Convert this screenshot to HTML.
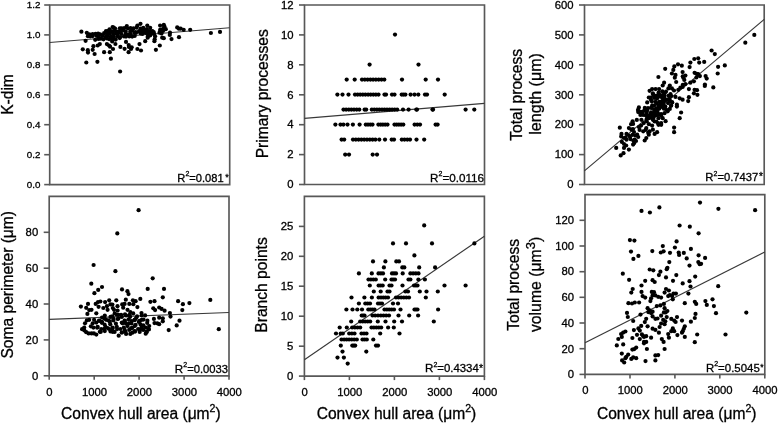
<!DOCTYPE html>
<html><head><meta charset="utf-8"><style>
html,body{margin:0;padding:0;background:#fff;}
svg{display:block;will-change:transform;}
text{font-family:"Liberation Sans", sans-serif;fill:#000;stroke:#000;stroke-width:0.3px;}
</style></head><body>
<svg width="778" height="423" viewBox="0 0 778 423">
<rect width="778" height="423" fill="#fff"/>
<path d="M49.70 5.00H229.70V184.60H49.70Z" fill="none" stroke="#585858" stroke-width="1.65"/><path d="M44.2 184.6H49.7" stroke="#585858" stroke-width="1.6"/><text x="40.4" y="187.88" font-size="9.8" text-anchor="end">0.0</text><path d="M44.2 154.7H49.7" stroke="#585858" stroke-width="1.6"/><text x="40.4" y="157.95" font-size="9.8" text-anchor="end">0.2</text><path d="M44.2 124.7H49.7" stroke="#585858" stroke-width="1.6"/><text x="40.4" y="128.01" font-size="9.8" text-anchor="end">0.4</text><path d="M44.2 94.8H49.7" stroke="#585858" stroke-width="1.6"/><text x="40.4" y="98.08" font-size="9.8" text-anchor="end">0.6</text><path d="M44.2 64.9H49.7" stroke="#585858" stroke-width="1.6"/><text x="40.4" y="68.15" font-size="9.8" text-anchor="end">0.8</text><path d="M44.2 34.9H49.7" stroke="#585858" stroke-width="1.6"/><text x="40.4" y="38.21" font-size="9.8" text-anchor="end">1.0</text><path d="M44.2 5.0H49.7" stroke="#585858" stroke-width="1.6"/><text x="40.4" y="8.28" font-size="9.8" text-anchor="end">1.2</text><path d="M49.6 42.5L229.7 27.8" stroke="#383838" stroke-width="1.15"/><text x="177.31" y="181.50" font-size="11.15">R</text><text x="185.46" y="176.10" font-size="7.0">2</text><text x="189.35" y="181.50" font-size="11.15" textLength="34.31" lengthAdjust="spacingAndGlyphs">=0.081</text><text x="225.32" y="179.81" font-size="9.00">*</text><path d="M304.50 5.00H484.50V184.50H304.50Z" fill="none" stroke="#585858" stroke-width="1.65"/><path d="M299.0 184.5H304.5" stroke="#585858" stroke-width="1.6"/><text x="293.5" y="188.30" font-size="11.3" text-anchor="end">0</text><path d="M299.0 154.6H304.5" stroke="#585858" stroke-width="1.6"/><text x="293.5" y="158.38" font-size="11.3" text-anchor="end">2</text><path d="M299.0 124.7H304.5" stroke="#585858" stroke-width="1.6"/><text x="293.5" y="128.47" font-size="11.3" text-anchor="end">4</text><path d="M299.0 94.8H304.5" stroke="#585858" stroke-width="1.6"/><text x="293.5" y="98.55" font-size="11.3" text-anchor="end">6</text><path d="M299.0 64.8H304.5" stroke="#585858" stroke-width="1.6"/><text x="293.5" y="68.63" font-size="11.3" text-anchor="end">8</text><path d="M299.0 34.9H304.5" stroke="#585858" stroke-width="1.6"/><text x="293.5" y="38.72" font-size="11.3" text-anchor="end">10</text><path d="M299.0 5.0H304.5" stroke="#585858" stroke-width="1.6"/><text x="293.5" y="8.80" font-size="11.3" text-anchor="end">12</text><path d="M304.4 118.4L484.4 103.4" stroke="#383838" stroke-width="1.15"/><text x="430.07" y="181.50" font-size="11.60">R</text><text x="438.55" y="176.10" font-size="7.0">2</text><text x="442.44" y="181.50" font-size="11.60" textLength="41.64" lengthAdjust="spacingAndGlyphs">=0.0116</text><path d="M584.50 5.00H764.20V184.50H584.50Z" fill="none" stroke="#585858" stroke-width="1.65"/><path d="M579.0 184.5H584.5" stroke="#585858" stroke-width="1.6"/><text x="573.5" y="188.30" font-size="11.3" text-anchor="end">0</text><path d="M579.0 154.6H584.5" stroke="#585858" stroke-width="1.6"/><text x="573.5" y="158.38" font-size="11.3" text-anchor="end">100</text><path d="M579.0 124.7H584.5" stroke="#585858" stroke-width="1.6"/><text x="573.5" y="128.47" font-size="11.3" text-anchor="end">200</text><path d="M579.0 94.8H584.5" stroke="#585858" stroke-width="1.6"/><text x="573.5" y="98.55" font-size="11.3" text-anchor="end">300</text><path d="M579.0 64.8H584.5" stroke="#585858" stroke-width="1.6"/><text x="573.5" y="68.63" font-size="11.3" text-anchor="end">400</text><path d="M579.0 34.9H584.5" stroke="#585858" stroke-width="1.6"/><text x="573.5" y="38.72" font-size="11.3" text-anchor="end">500</text><path d="M579.0 5.0H584.5" stroke="#585858" stroke-width="1.6"/><text x="573.5" y="8.80" font-size="11.3" text-anchor="end">600</text><path d="M584.4 170.9L764.2 19.4" stroke="#383838" stroke-width="1.15"/><text x="705.30" y="181.30" font-size="11.30">R</text><text x="713.55" y="175.90" font-size="7.0">2</text><text x="717.45" y="181.30" font-size="11.30" textLength="40.72" lengthAdjust="spacingAndGlyphs">=0.7437</text><text x="759.10" y="180.20" font-size="10.00">*</text><path d="M49.20 196.40H229.00V375.80H49.20Z" fill="none" stroke="#585858" stroke-width="1.65"/><path d="M43.7 375.8H49.2" stroke="#585858" stroke-width="1.6"/><text x="38.2" y="379.60" font-size="11.3" text-anchor="end">0</text><path d="M43.7 339.9H49.2" stroke="#585858" stroke-width="1.6"/><text x="38.2" y="343.72" font-size="11.3" text-anchor="end">20</text><path d="M43.7 304.0H49.2" stroke="#585858" stroke-width="1.6"/><text x="38.2" y="307.84" font-size="11.3" text-anchor="end">40</text><path d="M43.7 268.2H49.2" stroke="#585858" stroke-width="1.6"/><text x="38.2" y="271.96" font-size="11.3" text-anchor="end">60</text><path d="M43.7 232.3H49.2" stroke="#585858" stroke-width="1.6"/><text x="38.2" y="236.08" font-size="11.3" text-anchor="end">80</text><path d="M49.2 375.8V379.8" stroke="#585858" stroke-width="1.6"/><text x="49.5" y="395.6" font-size="11.3" text-anchor="middle">0</text><path d="M94.2 375.8V379.8" stroke="#585858" stroke-width="1.6"/><text x="94.5" y="395.6" font-size="11.3" text-anchor="middle">1000</text><path d="M139.1 375.8V379.8" stroke="#585858" stroke-width="1.6"/><text x="139.4" y="395.6" font-size="11.3" text-anchor="middle">2000</text><path d="M184.1 375.8V379.8" stroke="#585858" stroke-width="1.6"/><text x="184.4" y="395.6" font-size="11.3" text-anchor="middle">3000</text><path d="M229.0 375.8V379.8" stroke="#585858" stroke-width="1.6"/><text x="229.3" y="395.6" font-size="11.3" text-anchor="middle">4000</text><path d="M49.2 319.4L229.0 312.5" stroke="#383838" stroke-width="1.15"/><text x="174.77" y="372.60" font-size="11.60">R</text><text x="183.25" y="367.20" font-size="7.0">2</text><text x="187.14" y="372.60" font-size="11.60" textLength="40.94" lengthAdjust="spacingAndGlyphs">=0.0033</text><path d="M304.40 196.40H484.40V376.10H304.40Z" fill="none" stroke="#585858" stroke-width="1.65"/><path d="M298.9 376.1H304.4" stroke="#585858" stroke-width="1.6"/><text x="293.4" y="379.90" font-size="11.3" text-anchor="end">0</text><path d="M298.9 346.2H304.4" stroke="#585858" stroke-width="1.6"/><text x="293.4" y="349.95" font-size="11.3" text-anchor="end">5</text><path d="M298.9 316.2H304.4" stroke="#585858" stroke-width="1.6"/><text x="293.4" y="320.00" font-size="11.3" text-anchor="end">10</text><path d="M298.9 286.2H304.4" stroke="#585858" stroke-width="1.6"/><text x="293.4" y="290.05" font-size="11.3" text-anchor="end">15</text><path d="M298.9 256.3H304.4" stroke="#585858" stroke-width="1.6"/><text x="293.4" y="260.10" font-size="11.3" text-anchor="end">20</text><path d="M298.9 226.4H304.4" stroke="#585858" stroke-width="1.6"/><text x="293.4" y="230.15" font-size="11.3" text-anchor="end">25</text><path d="M304.4 376.1V380.1" stroke="#585858" stroke-width="1.6"/><text x="304.7" y="395.9" font-size="11.3" text-anchor="middle">0</text><path d="M349.4 376.1V380.1" stroke="#585858" stroke-width="1.6"/><text x="349.7" y="395.9" font-size="11.3" text-anchor="middle">1000</text><path d="M394.4 376.1V380.1" stroke="#585858" stroke-width="1.6"/><text x="394.7" y="395.9" font-size="11.3" text-anchor="middle">2000</text><path d="M439.4 376.1V380.1" stroke="#585858" stroke-width="1.6"/><text x="439.7" y="395.9" font-size="11.3" text-anchor="middle">3000</text><path d="M484.4 376.1V380.1" stroke="#585858" stroke-width="1.6"/><text x="484.7" y="395.9" font-size="11.3" text-anchor="middle">4000</text><path d="M304.4 359.8L484.4 236.2" stroke="#383838" stroke-width="1.15"/><text x="424.97" y="372.30" font-size="11.60">R</text><text x="433.45" y="366.90" font-size="7.0">2</text><text x="437.34" y="372.30" font-size="11.60" textLength="41.44" lengthAdjust="spacingAndGlyphs">=0.4334</text><text x="478.99" y="372.14" font-size="10.50">*</text><path d="M585.00 194.60H764.80V374.40H585.00Z" fill="none" stroke="#585858" stroke-width="1.65"/><path d="M579.5 374.4H585.0" stroke="#585858" stroke-width="1.6"/><text x="574.0" y="378.20" font-size="11.3" text-anchor="end">0</text><path d="M579.5 348.7H585.0" stroke="#585858" stroke-width="1.6"/><text x="574.0" y="352.51" font-size="11.3" text-anchor="end">20</text><path d="M579.5 323.0H585.0" stroke="#585858" stroke-width="1.6"/><text x="574.0" y="326.83" font-size="11.3" text-anchor="end">40</text><path d="M579.5 297.3H585.0" stroke="#585858" stroke-width="1.6"/><text x="574.0" y="301.14" font-size="11.3" text-anchor="end">60</text><path d="M579.5 271.7H585.0" stroke="#585858" stroke-width="1.6"/><text x="574.0" y="275.46" font-size="11.3" text-anchor="end">80</text><path d="M579.5 246.0H585.0" stroke="#585858" stroke-width="1.6"/><text x="574.0" y="249.77" font-size="11.3" text-anchor="end">100</text><path d="M579.5 220.3H585.0" stroke="#585858" stroke-width="1.6"/><text x="574.0" y="224.08" font-size="11.3" text-anchor="end">120</text><path d="M585.0 374.4V378.4" stroke="#585858" stroke-width="1.6"/><text x="585.3" y="394.2" font-size="11.3" text-anchor="middle">0</text><path d="M630.0 374.4V378.4" stroke="#585858" stroke-width="1.6"/><text x="630.2" y="394.2" font-size="11.3" text-anchor="middle">1000</text><path d="M674.9 374.4V378.4" stroke="#585858" stroke-width="1.6"/><text x="675.2" y="394.2" font-size="11.3" text-anchor="middle">2000</text><path d="M719.8 374.4V378.4" stroke="#585858" stroke-width="1.6"/><text x="720.1" y="394.2" font-size="11.3" text-anchor="middle">3000</text><path d="M764.8 374.4V378.4" stroke="#585858" stroke-width="1.6"/><text x="765.1" y="394.2" font-size="11.3" text-anchor="middle">4000</text><path d="M585.0 342.7L764.8 252.0" stroke="#383838" stroke-width="1.15"/><text x="705.89" y="371.50" font-size="11.40">R</text><text x="714.22" y="366.10" font-size="7.0">2</text><text x="718.11" y="371.50" font-size="11.40" textLength="41.66" lengthAdjust="spacingAndGlyphs">=0.5045</text><text x="760.23" y="370.17" font-size="8.50">*</text>
<text transform="translate(12.5 94.5) rotate(-90)" font-size="15.6" text-anchor="middle">K-dim</text><text transform="translate(267.6 93.8) rotate(-90)" font-size="15.6" text-anchor="middle">Primary processes</text><text transform="translate(521.5 94.8) rotate(-90)" font-size="15.6" text-anchor="middle">Total process</text><text transform="translate(540.7 93.9) rotate(-90)" font-size="16.1" text-anchor="middle">length (μm)</text><text transform="translate(12.8 284.8) rotate(-90)" font-size="15.6" text-anchor="middle">Soma perimeter (μm)</text><text transform="translate(267.3 285.0) rotate(-90)" font-size="15.6" text-anchor="middle">Branch points</text><text transform="translate(518.8 284.9) rotate(-90)" font-size="15.6" text-anchor="middle">Total process</text><text transform="translate(540.8 284.4) rotate(-90)" font-size="15.8" text-anchor="middle">volume (μm<tspan font-size="13" dy="-6.3">3</tspan><tspan dy="6.3">)</tspan></text><text x="140.9" y="418.5" font-size="15.6" text-anchor="middle">Convex hull area (μm<tspan font-size="10.6" dy="-7.0">2</tspan><tspan dy="7.0">)</tspan></text><text x="396.5" y="418.5" font-size="15.6" text-anchor="middle">Convex hull area (μm<tspan font-size="10.6" dy="-7.0">2</tspan><tspan dy="7.0">)</tspan></text><text x="676.7" y="418.5" font-size="15.6" text-anchor="middle">Convex hull area (μm<tspan font-size="10.6" dy="-7.0">2</tspan><tspan dy="7.0">)</tspan></text>
<g fill="#000"><circle cx="81.4" cy="31.7" r="2.10"/><circle cx="85.6" cy="40.8" r="2.10"/><circle cx="82.8" cy="49.3" r="2.10"/><circle cx="87.8" cy="50.2" r="2.10"/><circle cx="88.0" cy="52.6" r="2.10"/><circle cx="92.7" cy="49.8" r="2.10"/><circle cx="93.4" cy="46.2" r="2.10"/><circle cx="94.6" cy="54.0" r="2.10"/><circle cx="86.3" cy="62.5" r="2.10"/><circle cx="97.4" cy="61.8" r="2.10"/><circle cx="97.7" cy="45.5" r="2.10"/><circle cx="99.8" cy="44.1" r="2.10"/><circle cx="104.1" cy="52.2" r="2.10"/><circle cx="109.8" cy="52.2" r="2.10"/><circle cx="106.9" cy="44.1" r="2.10"/><circle cx="109.0" cy="45.5" r="2.10"/><circle cx="113.0" cy="49.0" r="2.10"/><circle cx="110.9" cy="58.7" r="2.10"/><circle cx="120.1" cy="71.5" r="2.10"/><circle cx="120.4" cy="46.9" r="2.10"/><circle cx="124.6" cy="48.8" r="2.10"/><circle cx="128.6" cy="52.2" r="2.10"/><circle cx="128.9" cy="46.9" r="2.10"/><circle cx="131.0" cy="49.0" r="2.10"/><circle cx="131.7" cy="47.3" r="2.10"/><circle cx="139.5" cy="44.1" r="2.10"/><circle cx="137.4" cy="49.0" r="2.10"/><circle cx="141.0" cy="50.5" r="2.10"/><circle cx="145.2" cy="41.2" r="2.10"/><circle cx="154.4" cy="41.2" r="2.10"/><circle cx="155.9" cy="49.8" r="2.10"/><circle cx="159.8" cy="45.5" r="2.10"/><circle cx="162.2" cy="37.7" r="2.10"/><circle cx="161.5" cy="33.4" r="2.10"/><circle cx="160.1" cy="29.9" r="2.10"/><circle cx="160.1" cy="25.6" r="2.10"/><circle cx="164.4" cy="26.3" r="2.10"/><circle cx="165.8" cy="29.2" r="2.10"/><circle cx="170.0" cy="32.7" r="2.10"/><circle cx="171.5" cy="39.1" r="2.10"/><circle cx="169.8" cy="34.9" r="2.10"/><circle cx="140.5" cy="23.8" r="2.10"/><circle cx="137.4" cy="25.6" r="2.10"/><circle cx="126.8" cy="26.1" r="2.10"/><circle cx="112.6" cy="27.1" r="2.10"/><circle cx="147.3" cy="25.6" r="2.10"/><circle cx="150.2" cy="27.8" r="2.10"/><circle cx="153.7" cy="32.0" r="2.10"/><circle cx="155.1" cy="36.3" r="2.10"/><circle cx="148.8" cy="34.9" r="2.10"/><circle cx="144.2" cy="29.9" r="2.10"/><circle cx="152.4" cy="31.0" r="2.10"/><circle cx="154.1" cy="33.9" r="2.10"/><circle cx="154.7" cy="39.2" r="2.10"/><circle cx="150.6" cy="34.5" r="2.10"/><circle cx="159.5" cy="32.7" r="2.10"/><circle cx="164.2" cy="28.0" r="2.10"/><circle cx="163.0" cy="31.0" r="2.10"/><circle cx="177.2" cy="27.4" r="2.10"/><circle cx="180.7" cy="28.6" r="2.10"/><circle cx="183.7" cy="29.8" r="2.10"/><circle cx="179.0" cy="37.2" r="2.10"/><circle cx="190.2" cy="29.8" r="2.10"/><circle cx="210.9" cy="33.0" r="2.10"/><circle cx="220.0" cy="31.9" r="2.10"/><circle cx="110.1" cy="46.7" r="2.10"/><circle cx="128.7" cy="45.1" r="2.10"/><circle cx="126.0" cy="41.9" r="2.10"/><circle cx="115.4" cy="44.0" r="2.10"/><circle cx="112.2" cy="41.4" r="2.10"/><circle cx="95.2" cy="39.8" r="2.10"/><circle cx="163.8" cy="24.9" r="2.10"/><circle cx="162.8" cy="29.2" r="2.10"/><circle cx="163.8" cy="38.2" r="2.10"/><circle cx="178.9" cy="28.7" r="2.10"/><circle cx="147.7" cy="37.7" r="2.10"/><circle cx="109.5" cy="29.3" r="2.10"/><circle cx="113.7" cy="27.7" r="2.10"/><circle cx="115.1" cy="28.6" r="2.10"/><circle cx="119.8" cy="28.3" r="2.10"/><circle cx="121.5" cy="28.4" r="2.10"/><circle cx="124.2" cy="28.0" r="2.10"/><circle cx="127.9" cy="28.5" r="2.10"/><circle cx="130.5" cy="28.0" r="2.10"/><circle cx="133.5" cy="28.4" r="2.10"/><circle cx="136.6" cy="27.6" r="2.10"/><circle cx="140.6" cy="28.6" r="2.10"/><circle cx="143.3" cy="27.9" r="2.10"/><circle cx="146.9" cy="29.1" r="2.10"/><circle cx="106.0" cy="31.0" r="2.10"/><circle cx="107.9" cy="31.2" r="2.10"/><circle cx="111.9" cy="31.4" r="2.10"/><circle cx="114.3" cy="31.0" r="2.10"/><circle cx="117.5" cy="31.6" r="2.10"/><circle cx="120.5" cy="30.9" r="2.10"/><circle cx="123.5" cy="30.3" r="2.10"/><circle cx="125.7" cy="31.5" r="2.10"/><circle cx="130.4" cy="31.3" r="2.10"/><circle cx="132.3" cy="30.5" r="2.10"/><circle cx="135.5" cy="32.0" r="2.10"/><circle cx="139.0" cy="31.2" r="2.10"/><circle cx="142.1" cy="30.6" r="2.10"/><circle cx="144.5" cy="31.9" r="2.10"/><circle cx="147.6" cy="31.0" r="2.10"/><circle cx="150.1" cy="31.2" r="2.10"/><circle cx="86.8" cy="32.8" r="2.10"/><circle cx="89.5" cy="34.3" r="2.10"/><circle cx="92.7" cy="34.2" r="2.10"/><circle cx="95.6" cy="33.8" r="2.10"/><circle cx="98.1" cy="33.6" r="2.10"/><circle cx="100.2" cy="34.4" r="2.10"/><circle cx="104.1" cy="33.2" r="2.10"/><circle cx="107.0" cy="33.7" r="2.10"/><circle cx="109.7" cy="33.4" r="2.10"/><circle cx="113.1" cy="33.9" r="2.10"/><circle cx="116.2" cy="33.6" r="2.10"/><circle cx="118.2" cy="33.2" r="2.10"/><circle cx="121.4" cy="33.9" r="2.10"/><circle cx="125.6" cy="34.3" r="2.10"/><circle cx="128.5" cy="34.3" r="2.10"/><circle cx="130.6" cy="34.3" r="2.10"/><circle cx="134.3" cy="33.0" r="2.10"/><circle cx="136.1" cy="32.8" r="2.10"/><circle cx="140.5" cy="33.3" r="2.10"/><circle cx="142.3" cy="33.9" r="2.10"/><circle cx="145.7" cy="32.9" r="2.10"/><circle cx="148.4" cy="33.8" r="2.10"/><circle cx="151.4" cy="33.3" r="2.10"/><circle cx="87.9" cy="36.2" r="2.10"/><circle cx="90.2" cy="36.3" r="2.10"/><circle cx="92.6" cy="36.1" r="2.10"/><circle cx="96.4" cy="35.8" r="2.10"/><circle cx="98.8" cy="37.0" r="2.10"/><circle cx="102.5" cy="35.8" r="2.10"/><circle cx="105.7" cy="36.9" r="2.10"/><circle cx="107.6" cy="35.5" r="2.10"/><circle cx="110.9" cy="36.7" r="2.10"/><circle cx="113.9" cy="36.7" r="2.10"/><circle cx="117.8" cy="36.4" r="2.10"/><circle cx="120.0" cy="37.2" r="2.10"/><circle cx="124.0" cy="36.4" r="2.10"/><circle cx="126.0" cy="36.6" r="2.10"/><circle cx="129.3" cy="36.5" r="2.10"/><circle cx="132.2" cy="36.6" r="2.10"/><circle cx="134.7" cy="36.0" r="2.10"/><circle cx="147.9" cy="36.2" r="2.10"/><circle cx="150.1" cy="35.4" r="2.10"/><circle cx="98.4" cy="39.0" r="2.10"/><circle cx="100.8" cy="38.7" r="2.10"/><circle cx="103.5" cy="39.3" r="2.10"/><circle cx="106.9" cy="38.4" r="2.10"/><circle cx="109.3" cy="39.2" r="2.10"/><circle cx="112.6" cy="38.9" r="2.10"/><circle cx="115.7" cy="39.6" r="2.10"/><circle cx="119.7" cy="38.1" r="2.10"/><circle cx="395.0" cy="34.6" r="2.10"/><circle cx="369.6" cy="64.6" r="2.10"/><circle cx="418.5" cy="64.6" r="2.10"/><circle cx="346.7" cy="79.6" r="2.10"/><circle cx="354.7" cy="79.6" r="2.10"/><circle cx="362.0" cy="79.6" r="2.10"/><circle cx="364.8" cy="79.6" r="2.10"/><circle cx="367.6" cy="79.6" r="2.10"/><circle cx="370.4" cy="79.6" r="2.10"/><circle cx="373.1" cy="79.6" r="2.10"/><circle cx="375.9" cy="79.6" r="2.10"/><circle cx="378.7" cy="79.6" r="2.10"/><circle cx="381.5" cy="79.6" r="2.10"/><circle cx="384.3" cy="79.6" r="2.10"/><circle cx="402.0" cy="79.6" r="2.10"/><circle cx="425.7" cy="79.6" r="2.10"/><circle cx="438.0" cy="79.6" r="2.10"/><circle cx="337.4" cy="94.6" r="2.10"/><circle cx="342.5" cy="94.6" r="2.10"/><circle cx="348.5" cy="94.6" r="2.10"/><circle cx="355.0" cy="94.6" r="2.10"/><circle cx="357.6" cy="94.6" r="2.10"/><circle cx="360.2" cy="94.6" r="2.10"/><circle cx="362.8" cy="94.6" r="2.10"/><circle cx="365.4" cy="94.6" r="2.10"/><circle cx="368.1" cy="94.6" r="2.10"/><circle cx="370.7" cy="94.6" r="2.10"/><circle cx="373.3" cy="94.6" r="2.10"/><circle cx="375.9" cy="94.6" r="2.10"/><circle cx="378.5" cy="94.6" r="2.10"/><circle cx="384.5" cy="94.6" r="2.10"/><circle cx="386.0" cy="94.6" r="2.10"/><circle cx="392.0" cy="94.6" r="2.10"/><circle cx="394.5" cy="94.6" r="2.10"/><circle cx="401.7" cy="94.6" r="2.10"/><circle cx="403.5" cy="94.6" r="2.10"/><circle cx="405.4" cy="94.6" r="2.10"/><circle cx="410.6" cy="94.6" r="2.10"/><circle cx="414.5" cy="94.6" r="2.10"/><circle cx="418.3" cy="94.6" r="2.10"/><circle cx="425.0" cy="94.6" r="2.10"/><circle cx="427.0" cy="94.6" r="2.10"/><circle cx="444.7" cy="94.6" r="2.10"/><circle cx="343.5" cy="109.6" r="2.10"/><circle cx="346.1" cy="109.6" r="2.10"/><circle cx="348.8" cy="109.6" r="2.10"/><circle cx="351.4" cy="109.6" r="2.10"/><circle cx="354.0" cy="109.6" r="2.10"/><circle cx="356.7" cy="109.6" r="2.10"/><circle cx="359.3" cy="109.6" r="2.10"/><circle cx="364.6" cy="109.6" r="2.10"/><circle cx="366.2" cy="109.6" r="2.10"/><circle cx="371.8" cy="109.6" r="2.10"/><circle cx="374.3" cy="109.6" r="2.10"/><circle cx="376.9" cy="109.6" r="2.10"/><circle cx="379.4" cy="109.6" r="2.10"/><circle cx="382.0" cy="109.6" r="2.10"/><circle cx="384.5" cy="109.6" r="2.10"/><circle cx="387.0" cy="109.6" r="2.10"/><circle cx="389.6" cy="109.6" r="2.10"/><circle cx="392.1" cy="109.6" r="2.10"/><circle cx="394.7" cy="109.6" r="2.10"/><circle cx="397.2" cy="109.6" r="2.10"/><circle cx="403.0" cy="109.6" r="2.10"/><circle cx="408.6" cy="109.6" r="2.10"/><circle cx="416.3" cy="109.6" r="2.10"/><circle cx="417.0" cy="109.6" r="2.10"/><circle cx="432.5" cy="109.6" r="2.10"/><circle cx="433.0" cy="109.6" r="2.10"/><circle cx="465.6" cy="109.6" r="2.10"/><circle cx="474.3" cy="109.6" r="2.10"/><circle cx="335.4" cy="124.6" r="2.10"/><circle cx="340.5" cy="124.6" r="2.10"/><circle cx="343.4" cy="124.6" r="2.10"/><circle cx="347.5" cy="124.6" r="2.10"/><circle cx="352.9" cy="124.6" r="2.10"/><circle cx="359.6" cy="124.6" r="2.10"/><circle cx="365.8" cy="124.6" r="2.10"/><circle cx="368.0" cy="124.6" r="2.10"/><circle cx="370.3" cy="124.6" r="2.10"/><circle cx="372.5" cy="124.6" r="2.10"/><circle cx="378.4" cy="124.6" r="2.10"/><circle cx="380.7" cy="124.6" r="2.10"/><circle cx="382.9" cy="124.6" r="2.10"/><circle cx="385.2" cy="124.6" r="2.10"/><circle cx="387.5" cy="124.6" r="2.10"/><circle cx="394.5" cy="124.6" r="2.10"/><circle cx="396.7" cy="124.6" r="2.10"/><circle cx="398.9" cy="124.6" r="2.10"/><circle cx="401.1" cy="124.6" r="2.10"/><circle cx="403.3" cy="124.6" r="2.10"/><circle cx="414.6" cy="124.6" r="2.10"/><circle cx="417.3" cy="124.6" r="2.10"/><circle cx="420.0" cy="124.6" r="2.10"/><circle cx="435.6" cy="124.6" r="2.10"/><circle cx="437.6" cy="124.6" r="2.10"/><circle cx="341.6" cy="139.6" r="2.10"/><circle cx="344.2" cy="139.6" r="2.10"/><circle cx="353.0" cy="139.6" r="2.10"/><circle cx="355.8" cy="139.6" r="2.10"/><circle cx="358.6" cy="139.6" r="2.10"/><circle cx="361.4" cy="139.6" r="2.10"/><circle cx="364.2" cy="139.6" r="2.10"/><circle cx="367.0" cy="139.6" r="2.10"/><circle cx="369.8" cy="139.6" r="2.10"/><circle cx="372.6" cy="139.6" r="2.10"/><circle cx="375.4" cy="139.6" r="2.10"/><circle cx="379.3" cy="139.6" r="2.10"/><circle cx="385.0" cy="139.6" r="2.10"/><circle cx="391.7" cy="139.6" r="2.10"/><circle cx="394.0" cy="139.6" r="2.10"/><circle cx="401.8" cy="139.6" r="2.10"/><circle cx="404.5" cy="139.6" r="2.10"/><circle cx="407.3" cy="139.6" r="2.10"/><circle cx="410.0" cy="139.6" r="2.10"/><circle cx="416.5" cy="139.6" r="2.10"/><circle cx="424.2" cy="139.6" r="2.10"/><circle cx="345.2" cy="154.6" r="2.10"/><circle cx="349.0" cy="154.6" r="2.10"/><circle cx="372.7" cy="154.6" r="2.10"/><circle cx="377.0" cy="154.6" r="2.10"/><circle cx="619.8" cy="127.7" r="2.10"/><circle cx="621.5" cy="133.9" r="2.10"/><circle cx="621.2" cy="136.4" r="2.10"/><circle cx="616.2" cy="147.9" r="2.10"/><circle cx="620.7" cy="155.4" r="2.10"/><circle cx="623.5" cy="153.2" r="2.10"/><circle cx="624.0" cy="147.9" r="2.10"/><circle cx="626.5" cy="139.7" r="2.10"/><circle cx="628.9" cy="149.6" r="2.10"/><circle cx="633.1" cy="144.6" r="2.10"/><circle cx="634.7" cy="139.7" r="2.10"/><circle cx="637.2" cy="134.7" r="2.10"/><circle cx="631.4" cy="129.7" r="2.10"/><circle cx="633.1" cy="123.9" r="2.10"/><circle cx="628.9" cy="128.1" r="2.10"/><circle cx="626.5" cy="133.9" r="2.10"/><circle cx="644.7" cy="140.5" r="2.10"/><circle cx="646.3" cy="138.0" r="2.10"/><circle cx="638.0" cy="109.9" r="2.10"/><circle cx="638.9" cy="107.4" r="2.10"/><circle cx="643.0" cy="111.5" r="2.10"/><circle cx="641.4" cy="119.8" r="2.10"/><circle cx="643.8" cy="123.1" r="2.10"/><circle cx="646.3" cy="128.1" r="2.10"/><circle cx="649.6" cy="131.4" r="2.10"/><circle cx="652.9" cy="129.7" r="2.10"/><circle cx="648.8" cy="134.7" r="2.10"/><circle cx="652.1" cy="125.6" r="2.10"/><circle cx="654.6" cy="133.9" r="2.10"/><circle cx="657.1" cy="132.2" r="2.10"/><circle cx="657.9" cy="123.1" r="2.10"/><circle cx="661.2" cy="124.8" r="2.10"/><circle cx="654.6" cy="121.5" r="2.10"/><circle cx="647.2" cy="102.4" r="2.10"/><circle cx="648.8" cy="97.5" r="2.10"/><circle cx="649.6" cy="90.8" r="2.10"/><circle cx="652.1" cy="105.7" r="2.10"/><circle cx="654.6" cy="111.5" r="2.10"/><circle cx="657.9" cy="113.2" r="2.10"/><circle cx="661.2" cy="114.0" r="2.10"/><circle cx="661.2" cy="106.6" r="2.10"/><circle cx="660.4" cy="96.6" r="2.10"/><circle cx="662.9" cy="95.0" r="2.10"/><circle cx="665.2" cy="68.8" r="2.10"/><circle cx="658.4" cy="77.0" r="2.10"/><circle cx="674.3" cy="66.4" r="2.10"/><circle cx="678.0" cy="64.3" r="2.10"/><circle cx="681.8" cy="65.7" r="2.10"/><circle cx="673.3" cy="69.9" r="2.10"/><circle cx="671.9" cy="73.5" r="2.10"/><circle cx="675.5" cy="74.9" r="2.10"/><circle cx="674.8" cy="77.7" r="2.10"/><circle cx="682.6" cy="72.1" r="2.10"/><circle cx="685.4" cy="75.6" r="2.10"/><circle cx="683.3" cy="77.7" r="2.10"/><circle cx="690.4" cy="62.6" r="2.10"/><circle cx="689.6" cy="67.1" r="2.10"/><circle cx="694.6" cy="72.8" r="2.10"/><circle cx="698.2" cy="74.2" r="2.10"/><circle cx="693.9" cy="81.3" r="2.10"/><circle cx="690.4" cy="82.7" r="2.10"/><circle cx="685.4" cy="84.1" r="2.10"/><circle cx="682.6" cy="87.0" r="2.10"/><circle cx="676.2" cy="82.0" r="2.10"/><circle cx="664.1" cy="82.7" r="2.10"/><circle cx="662.7" cy="85.5" r="2.10"/><circle cx="669.8" cy="85.5" r="2.10"/><circle cx="671.9" cy="88.4" r="2.10"/><circle cx="674.0" cy="90.5" r="2.10"/><circle cx="678.3" cy="89.8" r="2.10"/><circle cx="680.4" cy="87.7" r="2.10"/><circle cx="688.9" cy="89.1" r="2.10"/><circle cx="694.6" cy="89.8" r="2.10"/><circle cx="693.9" cy="93.3" r="2.10"/><circle cx="697.4" cy="94.8" r="2.10"/><circle cx="688.9" cy="97.2" r="2.10"/><circle cx="688.2" cy="101.1" r="2.10"/><circle cx="682.6" cy="99.7" r="2.10"/><circle cx="679.7" cy="98.3" r="2.10"/><circle cx="675.5" cy="96.9" r="2.10"/><circle cx="676.9" cy="104.7" r="2.10"/><circle cx="681.1" cy="112.5" r="2.10"/><circle cx="679.7" cy="118.2" r="2.10"/><circle cx="670.5" cy="94.0" r="2.10"/><circle cx="668.4" cy="88.4" r="2.10"/><circle cx="659.1" cy="89.1" r="2.10"/><circle cx="655.6" cy="89.1" r="2.10"/><circle cx="652.1" cy="89.1" r="2.10"/><circle cx="664.1" cy="96.9" r="2.10"/><circle cx="666.2" cy="99.7" r="2.10"/><circle cx="669.8" cy="101.1" r="2.10"/><circle cx="671.2" cy="105.4" r="2.10"/><circle cx="669.8" cy="108.9" r="2.10"/><circle cx="661.3" cy="103.3" r="2.10"/><circle cx="657.0" cy="98.3" r="2.10"/><circle cx="654.2" cy="96.2" r="2.10"/><circle cx="650.6" cy="97.6" r="2.10"/><circle cx="655.6" cy="101.8" r="2.10"/><circle cx="651.3" cy="107.5" r="2.10"/><circle cx="654.2" cy="109.6" r="2.10"/><circle cx="658.4" cy="108.2" r="2.10"/><circle cx="662.7" cy="106.8" r="2.10"/><circle cx="666.2" cy="109.6" r="2.10"/><circle cx="647.1" cy="110.4" r="2.10"/><circle cx="641.4" cy="113.9" r="2.10"/><circle cx="645.7" cy="115.3" r="2.10"/><circle cx="650.6" cy="113.9" r="2.10"/><circle cx="654.9" cy="114.6" r="2.10"/><circle cx="661.3" cy="116.0" r="2.10"/><circle cx="652.1" cy="117.4" r="2.10"/><circle cx="648.5" cy="118.2" r="2.10"/><circle cx="745.3" cy="42.7" r="2.10"/><circle cx="754.3" cy="34.9" r="2.10"/><circle cx="711.6" cy="50.5" r="2.10"/><circle cx="714.8" cy="54.1" r="2.10"/><circle cx="694.3" cy="59.0" r="2.10"/><circle cx="698.2" cy="58.3" r="2.10"/><circle cx="699.2" cy="62.6" r="2.10"/><circle cx="704.2" cy="61.9" r="2.10"/><circle cx="718.1" cy="66.8" r="2.10"/><circle cx="724.8" cy="65.4" r="2.10"/><circle cx="717.7" cy="73.5" r="2.10"/><circle cx="699.9" cy="76.1" r="2.10"/><circle cx="696.4" cy="77.5" r="2.10"/><circle cx="705.6" cy="76.1" r="2.10"/><circle cx="706.7" cy="78.6" r="2.10"/><circle cx="704.9" cy="84.6" r="2.10"/><circle cx="682.8" cy="76.3" r="2.10"/><circle cx="684.3" cy="79.9" r="2.10"/><circle cx="682.8" cy="84.8" r="2.10"/><circle cx="704.8" cy="86.0" r="2.10"/><circle cx="713.3" cy="87.4" r="2.10"/><circle cx="697.0" cy="90.2" r="2.10"/><circle cx="621.9" cy="141.9" r="2.10"/><circle cx="624.0" cy="144.0" r="2.10"/><circle cx="626.2" cy="145.5" r="2.10"/><circle cx="629.0" cy="135.5" r="2.10"/><circle cx="631.1" cy="124.2" r="2.10"/><circle cx="632.6" cy="121.3" r="2.10"/><circle cx="632.6" cy="134.8" r="2.10"/><circle cx="634.0" cy="132.0" r="2.10"/><circle cx="630.4" cy="139.1" r="2.10"/><circle cx="633.3" cy="140.5" r="2.10"/><circle cx="625.5" cy="137.7" r="2.10"/><circle cx="634.0" cy="143.3" r="2.10"/><circle cx="635.4" cy="135.5" r="2.10"/><circle cx="638.2" cy="137.0" r="2.10"/><circle cx="636.8" cy="119.9" r="2.10"/><circle cx="638.9" cy="127.0" r="2.10"/><circle cx="641.1" cy="125.6" r="2.10"/><circle cx="639.6" cy="129.9" r="2.10"/><circle cx="643.2" cy="131.3" r="2.10"/><circle cx="646.7" cy="121.3" r="2.10"/><circle cx="648.9" cy="124.2" r="2.10"/><circle cx="648.2" cy="132.7" r="2.10"/><circle cx="638.2" cy="112.1" r="2.10"/><circle cx="646.7" cy="112.8" r="2.10"/><circle cx="640.4" cy="115.0" r="2.10"/><circle cx="696.7" cy="73.9" r="2.10"/><circle cx="674.1" cy="127.6" r="2.10"/><circle cx="674.1" cy="132.2" r="2.10"/><circle cx="676.9" cy="106.6" r="2.10"/><circle cx="665.6" cy="121.2" r="2.10"/><circle cx="658.5" cy="124.8" r="2.10"/><circle cx="645.7" cy="129.8" r="2.10"/><circle cx="667.7" cy="111.3" r="2.10"/><circle cx="672.0" cy="102.1" r="2.10"/><circle cx="669.1" cy="99.3" r="2.10"/><circle cx="659.6" cy="95.0" r="2.10"/><circle cx="662.9" cy="98.3" r="2.10"/><circle cx="661.2" cy="101.6" r="2.10"/><circle cx="664.5" cy="93.3" r="2.10"/><circle cx="652.9" cy="93.3" r="2.10"/><circle cx="644.7" cy="109.9" r="2.10"/><circle cx="654.6" cy="113.2" r="2.10"/><circle cx="657.9" cy="114.8" r="2.10"/><circle cx="664.5" cy="113.2" r="2.10"/><circle cx="639.7" cy="111.5" r="2.10"/><circle cx="652.9" cy="119.8" r="2.10"/><circle cx="656.3" cy="121.5" r="2.10"/><circle cx="661.2" cy="123.1" r="2.10"/><circle cx="663.7" cy="104.1" r="2.10"/><circle cx="658.7" cy="106.6" r="2.10"/><circle cx="630.0" cy="137.0" r="2.10"/><circle cx="633.0" cy="129.0" r="2.10"/><circle cx="636.0" cy="141.0" r="2.10"/><circle cx="624.0" cy="138.0" r="2.10"/><circle cx="658.6" cy="92.6" r="2.10"/><circle cx="662.3" cy="91.3" r="2.10"/><circle cx="666.0" cy="91.7" r="2.10"/><circle cx="653.0" cy="94.6" r="2.10"/><circle cx="656.7" cy="95.7" r="2.10"/><circle cx="659.8" cy="95.0" r="2.10"/><circle cx="664.3" cy="95.4" r="2.10"/><circle cx="668.4" cy="95.8" r="2.10"/><circle cx="671.3" cy="96.0" r="2.10"/><circle cx="651.0" cy="99.9" r="2.10"/><circle cx="654.2" cy="98.0" r="2.10"/><circle cx="657.0" cy="98.2" r="2.10"/><circle cx="662.9" cy="98.6" r="2.10"/><circle cx="665.7" cy="99.8" r="2.10"/><circle cx="669.6" cy="99.1" r="2.10"/><circle cx="651.9" cy="101.6" r="2.10"/><circle cx="656.2" cy="103.1" r="2.10"/><circle cx="659.3" cy="101.9" r="2.10"/><circle cx="663.8" cy="101.5" r="2.10"/><circle cx="668.0" cy="103.1" r="2.10"/><circle cx="672.3" cy="102.5" r="2.10"/><circle cx="654.1" cy="105.7" r="2.10"/><circle cx="658.2" cy="105.1" r="2.10"/><circle cx="662.6" cy="105.1" r="2.10"/><circle cx="665.3" cy="106.5" r="2.10"/><circle cx="670.9" cy="105.8" r="2.10"/><circle cx="659.4" cy="108.6" r="2.10"/><circle cx="663.9" cy="108.7" r="2.10"/><circle cx="644.8" cy="107.9" r="2.10"/><circle cx="648.0" cy="108.2" r="2.10"/><circle cx="651.4" cy="108.0" r="2.10"/><circle cx="656.3" cy="108.6" r="2.10"/><circle cx="641.2" cy="112.1" r="2.10"/><circle cx="646.4" cy="110.6" r="2.10"/><circle cx="651.0" cy="112.4" r="2.10"/><circle cx="654.3" cy="111.7" r="2.10"/><circle cx="657.3" cy="110.5" r="2.10"/><circle cx="643.1" cy="114.9" r="2.10"/><circle cx="647.9" cy="115.6" r="2.10"/><circle cx="652.0" cy="115.2" r="2.10"/><circle cx="656.0" cy="115.3" r="2.10"/><circle cx="659.9" cy="114.5" r="2.10"/><circle cx="646.7" cy="118.9" r="2.10"/><circle cx="649.6" cy="117.9" r="2.10"/><circle cx="653.6" cy="117.6" r="2.10"/><circle cx="658.5" cy="118.2" r="2.10"/><circle cx="662.7" cy="118.2" r="2.10"/><circle cx="80.9" cy="306.6" r="2.10"/><circle cx="88.0" cy="303.9" r="2.10"/><circle cx="86.2" cy="307.8" r="2.10"/><circle cx="89.2" cy="310.1" r="2.10"/><circle cx="91.5" cy="309.8" r="2.10"/><circle cx="87.4" cy="313.9" r="2.10"/><circle cx="96.3" cy="313.3" r="2.10"/><circle cx="95.7" cy="303.9" r="2.10"/><circle cx="98.0" cy="302.1" r="2.10"/><circle cx="100.4" cy="301.5" r="2.10"/><circle cx="98.6" cy="306.8" r="2.10"/><circle cx="105.1" cy="302.1" r="2.10"/><circle cx="109.2" cy="300.3" r="2.10"/><circle cx="116.3" cy="300.3" r="2.10"/><circle cx="125.8" cy="299.7" r="2.10"/><circle cx="132.9" cy="300.3" r="2.10"/><circle cx="103.3" cy="308.0" r="2.10"/><circle cx="106.9" cy="306.2" r="2.10"/><circle cx="110.4" cy="304.4" r="2.10"/><circle cx="112.8" cy="308.0" r="2.10"/><circle cx="114.0" cy="309.8" r="2.10"/><circle cx="117.5" cy="306.2" r="2.10"/><circle cx="122.2" cy="304.4" r="2.10"/><circle cx="124.6" cy="303.9" r="2.10"/><circle cx="129.3" cy="303.9" r="2.10"/><circle cx="86.8" cy="320.4" r="2.10"/><circle cx="85.0" cy="323.3" r="2.10"/><circle cx="89.2" cy="319.8" r="2.10"/><circle cx="82.1" cy="329.2" r="2.10"/><circle cx="84.4" cy="330.4" r="2.10"/><circle cx="86.2" cy="332.2" r="2.10"/><circle cx="88.6" cy="333.4" r="2.10"/><circle cx="91.5" cy="333.4" r="2.10"/><circle cx="93.9" cy="333.4" r="2.10"/><circle cx="96.3" cy="334.6" r="2.10"/><circle cx="90.9" cy="326.3" r="2.10"/><circle cx="92.7" cy="323.3" r="2.10"/><circle cx="118.7" cy="335.7" r="2.10"/><circle cx="128.5" cy="294.1" r="2.10"/><circle cx="127.4" cy="291.2" r="2.10"/><circle cx="140.3" cy="298.9" r="2.10"/><circle cx="135.6" cy="301.2" r="2.10"/><circle cx="133.3" cy="304.2" r="2.10"/><circle cx="137.4" cy="307.1" r="2.10"/><circle cx="150.4" cy="301.8" r="2.10"/><circle cx="154.5" cy="301.2" r="2.10"/><circle cx="162.8" cy="297.3" r="2.10"/><circle cx="178.1" cy="301.2" r="2.10"/><circle cx="182.9" cy="304.2" r="2.10"/><circle cx="182.3" cy="310.1" r="2.10"/><circle cx="153.3" cy="308.3" r="2.10"/><circle cx="155.1" cy="310.1" r="2.10"/><circle cx="159.2" cy="307.5" r="2.10"/><circle cx="161.6" cy="308.9" r="2.10"/><circle cx="164.6" cy="310.7" r="2.10"/><circle cx="169.9" cy="313.0" r="2.10"/><circle cx="170.5" cy="316.6" r="2.10"/><circle cx="141.5" cy="313.0" r="2.10"/><circle cx="145.1" cy="315.4" r="2.10"/><circle cx="147.4" cy="320.7" r="2.10"/><circle cx="153.9" cy="318.9" r="2.10"/><circle cx="154.5" cy="323.1" r="2.10"/><circle cx="159.2" cy="317.7" r="2.10"/><circle cx="162.8" cy="318.3" r="2.10"/><circle cx="162.8" cy="321.3" r="2.10"/><circle cx="159.2" cy="324.2" r="2.10"/><circle cx="179.5" cy="320.7" r="2.10"/><circle cx="176.7" cy="325.4" r="2.10"/><circle cx="168.7" cy="330.1" r="2.10"/><circle cx="149.2" cy="326.0" r="2.10"/><circle cx="148.6" cy="329.0" r="2.10"/><circle cx="146.8" cy="331.9" r="2.10"/><circle cx="145.7" cy="333.7" r="2.10"/><circle cx="142.7" cy="329.0" r="2.10"/><circle cx="143.3" cy="325.4" r="2.10"/><circle cx="138.6" cy="210.2" r="2.10"/><circle cx="117.3" cy="233.4" r="2.10"/><circle cx="93.6" cy="265.0" r="2.10"/><circle cx="115.4" cy="271.2" r="2.10"/><circle cx="91.3" cy="283.7" r="2.10"/><circle cx="102.0" cy="287.0" r="2.10"/><circle cx="98.2" cy="289.9" r="2.10"/><circle cx="94.4" cy="293.2" r="2.10"/><circle cx="122.0" cy="289.4" r="2.10"/><circle cx="112.4" cy="304.5" r="2.10"/><circle cx="152.7" cy="278.3" r="2.10"/><circle cx="147.7" cy="288.9" r="2.10"/><circle cx="164.0" cy="288.9" r="2.10"/><circle cx="189.4" cy="303.1" r="2.10"/><circle cx="210.3" cy="299.9" r="2.10"/><circle cx="218.8" cy="329.2" r="2.10"/><circle cx="107.6" cy="309.8" r="2.10"/><circle cx="117.6" cy="310.5" r="2.10"/><circle cx="123.2" cy="307.7" r="2.10"/><circle cx="127.5" cy="309.8" r="2.10"/><circle cx="130.3" cy="312.0" r="2.10"/><circle cx="133.2" cy="313.4" r="2.10"/><circle cx="102.0" cy="317.6" r="2.10"/><circle cx="104.8" cy="315.5" r="2.10"/><circle cx="110.5" cy="316.9" r="2.10"/><circle cx="114.7" cy="313.4" r="2.10"/><circle cx="118.3" cy="314.8" r="2.10"/><circle cx="121.8" cy="316.9" r="2.10"/><circle cx="126.1" cy="315.5" r="2.10"/><circle cx="129.6" cy="314.8" r="2.10"/><circle cx="136.0" cy="318.3" r="2.10"/><circle cx="141.7" cy="315.5" r="2.10"/><circle cx="94.1" cy="319.8" r="2.10"/><circle cx="96.3" cy="322.6" r="2.10"/><circle cx="99.1" cy="320.5" r="2.10"/><circle cx="102.0" cy="321.9" r="2.10"/><circle cx="106.2" cy="319.8" r="2.10"/><circle cx="109.8" cy="321.9" r="2.10"/><circle cx="113.3" cy="320.5" r="2.10"/><circle cx="117.6" cy="319.0" r="2.10"/><circle cx="121.8" cy="322.6" r="2.10"/><circle cx="124.6" cy="320.5" r="2.10"/><circle cx="128.9" cy="323.3" r="2.10"/><circle cx="131.7" cy="321.2" r="2.10"/><circle cx="134.6" cy="319.8" r="2.10"/><circle cx="138.8" cy="321.9" r="2.10"/><circle cx="141.7" cy="319.8" r="2.10"/><circle cx="157.3" cy="323.3" r="2.10"/><circle cx="84.2" cy="327.6" r="2.10"/><circle cx="93.4" cy="327.6" r="2.10"/><circle cx="97.7" cy="326.8" r="2.10"/><circle cx="101.2" cy="329.0" r="2.10"/><circle cx="105.5" cy="326.8" r="2.10"/><circle cx="109.0" cy="329.0" r="2.10"/><circle cx="112.6" cy="327.6" r="2.10"/><circle cx="116.8" cy="326.8" r="2.10"/><circle cx="120.4" cy="329.0" r="2.10"/><circle cx="123.9" cy="327.6" r="2.10"/><circle cx="127.5" cy="326.1" r="2.10"/><circle cx="131.0" cy="328.3" r="2.10"/><circle cx="134.6" cy="326.1" r="2.10"/><circle cx="138.1" cy="329.0" r="2.10"/><circle cx="141.7" cy="326.8" r="2.10"/><circle cx="145.9" cy="327.6" r="2.10"/><circle cx="99.8" cy="331.8" r="2.10"/><circle cx="104.8" cy="331.1" r="2.10"/><circle cx="112.6" cy="331.8" r="2.10"/><circle cx="121.8" cy="332.5" r="2.10"/><circle cx="126.1" cy="333.9" r="2.10"/><circle cx="130.3" cy="333.9" r="2.10"/><circle cx="134.6" cy="331.1" r="2.10"/><circle cx="112.3" cy="316.4" r="2.10"/><circle cx="116.8" cy="314.7" r="2.10"/><circle cx="121.1" cy="314.8" r="2.10"/><circle cx="125.0" cy="314.3" r="2.10"/><circle cx="130.1" cy="316.8" r="2.10"/><circle cx="137.0" cy="316.4" r="2.10"/><circle cx="99.2" cy="320.9" r="2.10"/><circle cx="104.6" cy="318.6" r="2.10"/><circle cx="108.8" cy="320.4" r="2.10"/><circle cx="113.5" cy="318.9" r="2.10"/><circle cx="118.4" cy="318.6" r="2.10"/><circle cx="124.8" cy="320.9" r="2.10"/><circle cx="128.6" cy="319.3" r="2.10"/><circle cx="134.7" cy="320.1" r="2.10"/><circle cx="139.6" cy="320.9" r="2.10"/><circle cx="143.5" cy="319.6" r="2.10"/><circle cx="101.9" cy="322.8" r="2.10"/><circle cx="104.6" cy="324.6" r="2.10"/><circle cx="110.3" cy="324.3" r="2.10"/><circle cx="115.9" cy="323.7" r="2.10"/><circle cx="122.5" cy="323.3" r="2.10"/><circle cx="125.7" cy="323.3" r="2.10"/><circle cx="131.4" cy="323.5" r="2.10"/><circle cx="135.6" cy="324.9" r="2.10"/><circle cx="140.5" cy="324.4" r="2.10"/><circle cx="147.2" cy="323.0" r="2.10"/><circle cx="97.2" cy="327.7" r="2.10"/><circle cx="104.3" cy="328.9" r="2.10"/><circle cx="107.7" cy="328.0" r="2.10"/><circle cx="112.5" cy="328.4" r="2.10"/><circle cx="117.1" cy="329.1" r="2.10"/><circle cx="124.7" cy="329.9" r="2.10"/><circle cx="129.2" cy="329.9" r="2.10"/><circle cx="132.1" cy="327.9" r="2.10"/><circle cx="139.9" cy="329.4" r="2.10"/><circle cx="143.2" cy="329.9" r="2.10"/><circle cx="148.9" cy="329.5" r="2.10"/><circle cx="100.8" cy="331.8" r="2.10"/><circle cx="110.5" cy="331.4" r="2.10"/><circle cx="114.6" cy="331.9" r="2.10"/><circle cx="121.9" cy="332.5" r="2.10"/><circle cx="125.4" cy="331.7" r="2.10"/><circle cx="132.4" cy="332.7" r="2.10"/><circle cx="135.1" cy="331.6" r="2.10"/><circle cx="139.7" cy="331.9" r="2.10"/><circle cx="146.5" cy="331.8" r="2.10"/><circle cx="347.7" cy="363.6" r="2.10"/><circle cx="337.5" cy="357.6" r="2.10"/><circle cx="343.9" cy="357.6" r="2.10"/><circle cx="342.5" cy="351.6" r="2.10"/><circle cx="366.3" cy="351.6" r="2.10"/><circle cx="340.8" cy="345.6" r="2.10"/><circle cx="352.3" cy="345.6" r="2.10"/><circle cx="353.8" cy="345.6" r="2.10"/><circle cx="355.2" cy="345.6" r="2.10"/><circle cx="376.0" cy="345.6" r="2.10"/><circle cx="378.0" cy="345.6" r="2.10"/><circle cx="341.5" cy="339.5" r="2.10"/><circle cx="344.1" cy="339.5" r="2.10"/><circle cx="346.6" cy="339.5" r="2.10"/><circle cx="349.1" cy="339.5" r="2.10"/><circle cx="351.7" cy="339.5" r="2.10"/><circle cx="354.2" cy="339.5" r="2.10"/><circle cx="356.8" cy="339.5" r="2.10"/><circle cx="362.5" cy="339.5" r="2.10"/><circle cx="364.6" cy="339.5" r="2.10"/><circle cx="366.8" cy="339.5" r="2.10"/><circle cx="373.3" cy="339.5" r="2.10"/><circle cx="336.0" cy="333.5" r="2.10"/><circle cx="340.7" cy="333.5" r="2.10"/><circle cx="342.8" cy="333.5" r="2.10"/><circle cx="349.2" cy="333.5" r="2.10"/><circle cx="351.9" cy="333.5" r="2.10"/><circle cx="354.5" cy="333.5" r="2.10"/><circle cx="361.5" cy="333.5" r="2.10"/><circle cx="364.0" cy="333.5" r="2.10"/><circle cx="366.5" cy="333.5" r="2.10"/><circle cx="380.2" cy="333.5" r="2.10"/><circle cx="399.5" cy="333.5" r="2.10"/><circle cx="339.7" cy="327.5" r="2.10"/><circle cx="346.8" cy="327.5" r="2.10"/><circle cx="352.2" cy="327.5" r="2.10"/><circle cx="354.9" cy="327.5" r="2.10"/><circle cx="357.5" cy="327.5" r="2.10"/><circle cx="360.2" cy="327.5" r="2.10"/><circle cx="371.5" cy="327.5" r="2.10"/><circle cx="373.9" cy="327.5" r="2.10"/><circle cx="376.4" cy="327.5" r="2.10"/><circle cx="378.8" cy="327.5" r="2.10"/><circle cx="381.2" cy="327.5" r="2.10"/><circle cx="388.1" cy="327.5" r="2.10"/><circle cx="393.8" cy="327.5" r="2.10"/><circle cx="351.2" cy="321.5" r="2.10"/><circle cx="360.2" cy="321.5" r="2.10"/><circle cx="362.7" cy="321.5" r="2.10"/><circle cx="365.2" cy="321.5" r="2.10"/><circle cx="367.7" cy="321.5" r="2.10"/><circle cx="370.2" cy="321.5" r="2.10"/><circle cx="377.8" cy="321.5" r="2.10"/><circle cx="385.5" cy="321.5" r="2.10"/><circle cx="394.2" cy="321.5" r="2.10"/><circle cx="402.0" cy="321.5" r="2.10"/><circle cx="433.8" cy="321.5" r="2.10"/><circle cx="361.7" cy="315.5" r="2.10"/><circle cx="363.1" cy="315.5" r="2.10"/><circle cx="364.5" cy="315.5" r="2.10"/><circle cx="372.5" cy="315.5" r="2.10"/><circle cx="375.2" cy="315.5" r="2.10"/><circle cx="378.0" cy="315.5" r="2.10"/><circle cx="380.8" cy="315.5" r="2.10"/><circle cx="383.5" cy="315.5" r="2.10"/><circle cx="386.2" cy="315.5" r="2.10"/><circle cx="389.0" cy="315.5" r="2.10"/><circle cx="398.5" cy="315.5" r="2.10"/><circle cx="409.2" cy="315.5" r="2.10"/><circle cx="418.1" cy="315.5" r="2.10"/><circle cx="346.4" cy="309.5" r="2.10"/><circle cx="352.5" cy="309.5" r="2.10"/><circle cx="357.3" cy="309.5" r="2.10"/><circle cx="362.0" cy="309.5" r="2.10"/><circle cx="368.3" cy="309.5" r="2.10"/><circle cx="370.4" cy="309.5" r="2.10"/><circle cx="372.4" cy="309.5" r="2.10"/><circle cx="374.5" cy="309.5" r="2.10"/><circle cx="384.5" cy="309.5" r="2.10"/><circle cx="386.9" cy="309.5" r="2.10"/><circle cx="389.2" cy="309.5" r="2.10"/><circle cx="391.6" cy="309.5" r="2.10"/><circle cx="394.0" cy="309.5" r="2.10"/><circle cx="400.5" cy="309.5" r="2.10"/><circle cx="414.5" cy="309.5" r="2.10"/><circle cx="416.0" cy="309.5" r="2.10"/><circle cx="417.5" cy="309.5" r="2.10"/><circle cx="438.1" cy="309.5" r="2.10"/><circle cx="358.9" cy="303.5" r="2.10"/><circle cx="365.3" cy="303.5" r="2.10"/><circle cx="367.6" cy="303.5" r="2.10"/><circle cx="370.0" cy="303.5" r="2.10"/><circle cx="378.0" cy="303.5" r="2.10"/><circle cx="380.0" cy="303.5" r="2.10"/><circle cx="382.0" cy="303.5" r="2.10"/><circle cx="393.0" cy="303.5" r="2.10"/><circle cx="398.0" cy="303.5" r="2.10"/><circle cx="351.5" cy="297.5" r="2.10"/><circle cx="364.4" cy="297.5" r="2.10"/><circle cx="371.9" cy="297.5" r="2.10"/><circle cx="378.6" cy="297.5" r="2.10"/><circle cx="381.0" cy="297.5" r="2.10"/><circle cx="383.3" cy="297.5" r="2.10"/><circle cx="385.6" cy="297.5" r="2.10"/><circle cx="388.0" cy="297.5" r="2.10"/><circle cx="396.0" cy="297.5" r="2.10"/><circle cx="398.6" cy="297.5" r="2.10"/><circle cx="401.2" cy="297.5" r="2.10"/><circle cx="403.8" cy="297.5" r="2.10"/><circle cx="406.4" cy="297.5" r="2.10"/><circle cx="409.0" cy="297.5" r="2.10"/><circle cx="425.8" cy="297.5" r="2.10"/><circle cx="373.8" cy="291.5" r="2.10"/><circle cx="380.7" cy="291.5" r="2.10"/><circle cx="387.5" cy="291.5" r="2.10"/><circle cx="389.5" cy="291.5" r="2.10"/><circle cx="405.4" cy="291.5" r="2.10"/><circle cx="408.0" cy="291.5" r="2.10"/><circle cx="419.8" cy="291.5" r="2.10"/><circle cx="426.5" cy="291.5" r="2.10"/><circle cx="437.8" cy="291.5" r="2.10"/><circle cx="369.8" cy="285.5" r="2.10"/><circle cx="378.6" cy="285.5" r="2.10"/><circle cx="380.6" cy="285.5" r="2.10"/><circle cx="382.7" cy="285.5" r="2.10"/><circle cx="389.5" cy="285.5" r="2.10"/><circle cx="391.5" cy="285.5" r="2.10"/><circle cx="402.5" cy="285.5" r="2.10"/><circle cx="414.0" cy="285.5" r="2.10"/><circle cx="415.8" cy="285.5" r="2.10"/><circle cx="417.5" cy="285.5" r="2.10"/><circle cx="444.5" cy="285.5" r="2.10"/><circle cx="465.6" cy="285.5" r="2.10"/><circle cx="368.5" cy="279.5" r="2.10"/><circle cx="370.9" cy="279.5" r="2.10"/><circle cx="373.4" cy="279.5" r="2.10"/><circle cx="375.8" cy="279.5" r="2.10"/><circle cx="385.2" cy="279.5" r="2.10"/><circle cx="391.5" cy="279.5" r="2.10"/><circle cx="393.2" cy="279.5" r="2.10"/><circle cx="395.0" cy="279.5" r="2.10"/><circle cx="408.5" cy="279.5" r="2.10"/><circle cx="410.4" cy="279.5" r="2.10"/><circle cx="418.4" cy="279.5" r="2.10"/><circle cx="424.9" cy="279.5" r="2.10"/><circle cx="358.9" cy="273.4" r="2.10"/><circle cx="371.8" cy="273.4" r="2.10"/><circle cx="378.5" cy="273.4" r="2.10"/><circle cx="380.8" cy="273.4" r="2.10"/><circle cx="383.0" cy="273.4" r="2.10"/><circle cx="392.0" cy="273.4" r="2.10"/><circle cx="394.0" cy="273.4" r="2.10"/><circle cx="396.0" cy="273.4" r="2.10"/><circle cx="402.7" cy="273.4" r="2.10"/><circle cx="410.4" cy="273.4" r="2.10"/><circle cx="413.1" cy="273.4" r="2.10"/><circle cx="415.8" cy="273.4" r="2.10"/><circle cx="418.5" cy="273.4" r="2.10"/><circle cx="383.9" cy="267.4" r="2.10"/><circle cx="402.3" cy="267.4" r="2.10"/><circle cx="404.3" cy="267.4" r="2.10"/><circle cx="419.2" cy="267.4" r="2.10"/><circle cx="435.1" cy="267.4" r="2.10"/><circle cx="373.0" cy="261.4" r="2.10"/><circle cx="385.4" cy="261.4" r="2.10"/><circle cx="396.3" cy="261.4" r="2.10"/><circle cx="399.0" cy="261.4" r="2.10"/><circle cx="414.4" cy="255.4" r="2.10"/><circle cx="393.0" cy="243.4" r="2.10"/><circle cx="406.0" cy="243.4" r="2.10"/><circle cx="432.0" cy="243.4" r="2.10"/><circle cx="474.4" cy="243.4" r="2.10"/><circle cx="424.2" cy="225.4" r="2.10"/><circle cx="641.5" cy="210.9" r="2.10"/><circle cx="649.9" cy="212.5" r="2.10"/><circle cx="659.4" cy="207.4" r="2.10"/><circle cx="629.9" cy="240.1" r="2.10"/><circle cx="634.4" cy="240.6" r="2.10"/><circle cx="631.0" cy="251.6" r="2.10"/><circle cx="638.4" cy="255.9" r="2.10"/><circle cx="633.4" cy="258.9" r="2.10"/><circle cx="652.3" cy="251.1" r="2.10"/><circle cx="662.8" cy="246.1" r="2.10"/><circle cx="660.8" cy="252.5" r="2.10"/><circle cx="663.6" cy="251.3" r="2.10"/><circle cx="670.0" cy="252.8" r="2.10"/><circle cx="700.0" cy="202.6" r="2.10"/><circle cx="718.4" cy="208.8" r="2.10"/><circle cx="679.6" cy="225.5" r="2.10"/><circle cx="689.8" cy="226.7" r="2.10"/><circle cx="698.6" cy="233.3" r="2.10"/><circle cx="676.6" cy="241.4" r="2.10"/><circle cx="674.9" cy="247.5" r="2.10"/><circle cx="690.9" cy="248.9" r="2.10"/><circle cx="678.7" cy="252.5" r="2.10"/><circle cx="679.1" cy="255.0" r="2.10"/><circle cx="683.8" cy="252.9" r="2.10"/><circle cx="686.7" cy="258.4" r="2.10"/><circle cx="698.6" cy="255.3" r="2.10"/><circle cx="705.1" cy="257.9" r="2.10"/><circle cx="755.1" cy="210.2" r="2.10"/><circle cx="622.8" cy="273.7" r="2.10"/><circle cx="629.1" cy="279.8" r="2.10"/><circle cx="649.7" cy="269.5" r="2.10"/><circle cx="653.3" cy="270.3" r="2.10"/><circle cx="660.4" cy="271.7" r="2.10"/><circle cx="658.9" cy="275.1" r="2.10"/><circle cx="667.4" cy="267.8" r="2.10"/><circle cx="666.7" cy="269.2" r="2.10"/><circle cx="669.3" cy="262.1" r="2.10"/><circle cx="666.0" cy="277.4" r="2.10"/><circle cx="652.6" cy="280.2" r="2.10"/><circle cx="654.7" cy="282.0" r="2.10"/><circle cx="645.2" cy="280.8" r="2.10"/><circle cx="641.5" cy="285.5" r="2.10"/><circle cx="632.7" cy="289.0" r="2.10"/><circle cx="631.3" cy="292.6" r="2.10"/><circle cx="641.5" cy="291.9" r="2.10"/><circle cx="642.6" cy="296.1" r="2.10"/><circle cx="645.2" cy="297.6" r="2.10"/><circle cx="651.8" cy="291.9" r="2.10"/><circle cx="654.0" cy="292.2" r="2.10"/><circle cx="652.6" cy="295.4" r="2.10"/><circle cx="651.1" cy="298.3" r="2.10"/><circle cx="650.4" cy="301.1" r="2.10"/><circle cx="655.4" cy="295.4" r="2.10"/><circle cx="658.2" cy="296.8" r="2.10"/><circle cx="661.1" cy="297.6" r="2.10"/><circle cx="664.6" cy="292.6" r="2.10"/><circle cx="666.0" cy="289.0" r="2.10"/><circle cx="668.9" cy="290.5" r="2.10"/><circle cx="668.2" cy="296.1" r="2.10"/><circle cx="628.4" cy="303.2" r="2.10"/><circle cx="632.0" cy="303.5" r="2.10"/><circle cx="634.8" cy="302.5" r="2.10"/><circle cx="639.1" cy="302.5" r="2.10"/><circle cx="647.6" cy="308.2" r="2.10"/><circle cx="649.7" cy="310.3" r="2.10"/><circle cx="652.6" cy="311.7" r="2.10"/><circle cx="656.8" cy="306.1" r="2.10"/><circle cx="660.4" cy="305.4" r="2.10"/><circle cx="663.9" cy="303.9" r="2.10"/><circle cx="664.6" cy="308.2" r="2.10"/><circle cx="663.9" cy="312.4" r="2.10"/><circle cx="667.4" cy="311.0" r="2.10"/><circle cx="627.0" cy="312.9" r="2.10"/><circle cx="640.5" cy="314.6" r="2.10"/><circle cx="689.5" cy="265.6" r="2.10"/><circle cx="698.3" cy="262.1" r="2.10"/><circle cx="699.7" cy="264.2" r="2.10"/><circle cx="701.1" cy="263.8" r="2.10"/><circle cx="676.3" cy="275.1" r="2.10"/><circle cx="673.0" cy="280.8" r="2.10"/><circle cx="682.7" cy="283.4" r="2.10"/><circle cx="689.5" cy="281.2" r="2.10"/><circle cx="695.2" cy="276.6" r="2.10"/><circle cx="690.5" cy="286.5" r="2.10"/><circle cx="718.2" cy="286.2" r="2.10"/><circle cx="669.9" cy="295.0" r="2.10"/><circle cx="673.5" cy="293.6" r="2.10"/><circle cx="675.9" cy="293.6" r="2.10"/><circle cx="672.1" cy="296.1" r="2.10"/><circle cx="672.8" cy="299.3" r="2.10"/><circle cx="688.4" cy="293.6" r="2.10"/><circle cx="684.8" cy="303.2" r="2.10"/><circle cx="694.8" cy="301.8" r="2.10"/><circle cx="696.2" cy="303.9" r="2.10"/><circle cx="705.4" cy="301.1" r="2.10"/><circle cx="706.8" cy="304.9" r="2.10"/><circle cx="712.5" cy="299.3" r="2.10"/><circle cx="713.9" cy="306.1" r="2.10"/><circle cx="665.7" cy="312.4" r="2.10"/><circle cx="695.5" cy="313.9" r="2.10"/><circle cx="716.0" cy="313.2" r="2.10"/><circle cx="627.8" cy="317.0" r="2.10"/><circle cx="633.2" cy="321.0" r="2.10"/><circle cx="633.9" cy="330.1" r="2.10"/><circle cx="632.4" cy="338.0" r="2.10"/><circle cx="625.4" cy="331.5" r="2.10"/><circle cx="623.2" cy="332.6" r="2.10"/><circle cx="621.1" cy="334.0" r="2.10"/><circle cx="621.8" cy="336.9" r="2.10"/><circle cx="618.3" cy="339.0" r="2.10"/><circle cx="616.8" cy="345.4" r="2.10"/><circle cx="623.2" cy="344.4" r="2.10"/><circle cx="632.4" cy="349.6" r="2.10"/><circle cx="621.8" cy="353.6" r="2.10"/><circle cx="628.2" cy="354.6" r="2.10"/><circle cx="625.4" cy="358.2" r="2.10"/><circle cx="633.2" cy="357.4" r="2.10"/><circle cx="648.3" cy="312.1" r="2.10"/><circle cx="651.1" cy="313.1" r="2.10"/><circle cx="652.6" cy="316.4" r="2.10"/><circle cx="646.2" cy="318.8" r="2.10"/><circle cx="644.8" cy="322.1" r="2.10"/><circle cx="647.6" cy="326.3" r="2.10"/><circle cx="655.4" cy="318.8" r="2.10"/><circle cx="657.5" cy="318.5" r="2.10"/><circle cx="661.1" cy="315.7" r="2.10"/><circle cx="666.7" cy="317.1" r="2.10"/><circle cx="663.2" cy="319.9" r="2.10"/><circle cx="665.3" cy="321.3" r="2.10"/><circle cx="661.1" cy="323.5" r="2.10"/><circle cx="664.6" cy="324.2" r="2.10"/><circle cx="659.6" cy="327.0" r="2.10"/><circle cx="652.6" cy="328.7" r="2.10"/><circle cx="655.4" cy="329.9" r="2.10"/><circle cx="658.9" cy="332.7" r="2.10"/><circle cx="641.2" cy="325.9" r="2.10"/><circle cx="638.4" cy="328.4" r="2.10"/><circle cx="639.8" cy="330.6" r="2.10"/><circle cx="637.0" cy="334.8" r="2.10"/><circle cx="641.9" cy="334.4" r="2.10"/><circle cx="644.0" cy="337.0" r="2.10"/><circle cx="646.2" cy="336.2" r="2.10"/><circle cx="651.1" cy="337.7" r="2.10"/><circle cx="639.8" cy="339.1" r="2.10"/><circle cx="644.0" cy="341.9" r="2.10"/><circle cx="646.2" cy="341.9" r="2.10"/><circle cx="644.0" cy="343.3" r="2.10"/><circle cx="661.8" cy="339.1" r="2.10"/><circle cx="663.6" cy="341.9" r="2.10"/><circle cx="668.2" cy="334.1" r="2.10"/><circle cx="668.9" cy="337.7" r="2.10"/><circle cx="636.2" cy="347.6" r="2.10"/><circle cx="646.9" cy="349.0" r="2.10"/><circle cx="664.6" cy="349.0" r="2.10"/><circle cx="626.3" cy="356.8" r="2.10"/><circle cx="622.1" cy="360.4" r="2.10"/><circle cx="624.2" cy="362.5" r="2.10"/><circle cx="631.3" cy="358.9" r="2.10"/><circle cx="636.2" cy="358.2" r="2.10"/><circle cx="645.5" cy="361.1" r="2.10"/><circle cx="655.4" cy="355.4" r="2.10"/><circle cx="658.2" cy="355.1" r="2.10"/><circle cx="655.4" cy="360.4" r="2.10"/><circle cx="694.8" cy="318.0" r="2.10"/><circle cx="690.9" cy="321.7" r="2.10"/><circle cx="682.0" cy="320.6" r="2.10"/><circle cx="677.0" cy="317.1" r="2.10"/><circle cx="671.3" cy="318.9" r="2.10"/><circle cx="674.2" cy="320.6" r="2.10"/><circle cx="675.6" cy="322.0" r="2.10"/><circle cx="672.8" cy="328.4" r="2.10"/><circle cx="671.3" cy="331.2" r="2.10"/><circle cx="674.2" cy="331.2" r="2.10"/><circle cx="684.8" cy="326.3" r="2.10"/><circle cx="683.8" cy="328.8" r="2.10"/><circle cx="682.7" cy="331.2" r="2.10"/><circle cx="682.0" cy="332.7" r="2.10"/><circle cx="677.4" cy="335.1" r="2.10"/><circle cx="684.8" cy="336.9" r="2.10"/><circle cx="697.2" cy="334.5" r="2.10"/><circle cx="694.8" cy="342.2" r="2.10"/><circle cx="746.3" cy="312.6" r="2.10"/><circle cx="725.5" cy="334.5" r="2.10"/><circle cx="643.1" cy="335.9" r="2.10"/><circle cx="634.3" cy="349.1" r="2.10"/></g>
</svg></body></html>
